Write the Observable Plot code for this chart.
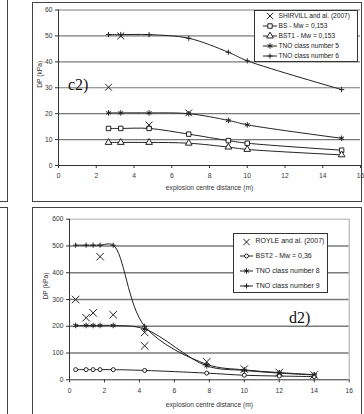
<!DOCTYPE html>
<html>
<head>
<meta charset="utf-8">
<script src="https://cdn.jsdelivr.net/npm/d3@7"></script>
<script src="https://cdn.jsdelivr.net/npm/@observablehq/plot@0.6"></script>
<style>
  html, body { margin: 0; padding: 0; background: #fff; }
  #page { position: relative; width: 364px; height: 414px; overflow: hidden; font-family: "Liberation Sans", Arial, sans-serif; color: #222; }
  .frame { position: absolute; border: 1.5px solid #444; box-sizing: border-box; }
  .chart { position: absolute; left: 0; }
  .legend { position: absolute; background: #fff; border: 1px solid #333; box-sizing: border-box; }
  .legend .row { position: absolute; left: 0; right: 0; display: flex; align-items: center; white-space: nowrap; }
  .legend svg { position: absolute; overflow: visible; }
  .tag { position: absolute; font-family: "Liberation Serif", "Times New Roman", serif; font-size: 16px; color: #111; line-height: 1; }
</style>
</head>
<body>
<div id="page">
  <div class="frame" style="left:-10px;top:-5px;width:18px;height:207px;"></div>
  <div class="frame" style="left:-10px;top:207px;width:18px;height:220px;"></div>
  <div class="frame" style="left:32px;top:2px;width:330px;height:200px;"></div>
  <div class="frame" style="left:32px;top:207px;width:330px;height:220px;"></div>
</div>
<script>
// ---- panel c2: overpressure vs distance (low congestion) ----
const distC = [2.65, 3.3, 4.8, 6.9, 9, 10, 15];
const bsC = [14.3, 14.3, 14.3, 12.1, 9.6, 8.6, 5.9];
const bst1C = [8.9, 8.9, 8.9, 8.6, 7.1, 6.2, 4.1];
const tno5C = [20.3, 20.3, 20.3, 20.0, 17.4, 15.7, 10.5];
const tno6C = [50.5, 50.5, 50.5, 49.1, 43.7, 40.4, 29.3];
const shirvillX = [2.65, 3.3, 4.8, 6.9];
const shirvillDP = [30.2, 50, 15.6, 20.3];
const xTicksC = [0, 2, 4, 6, 8, 10, 12, 14, 16];
const yTicksC = [0, 10, 20, 30, 40, 50, 60];

// ---- panel d2: overpressure vs distance (high congestion) ----
const distD = [0.35, 0.95, 1.35, 1.75, 2.5, 4.3, 7.85, 10, 12, 14];
const bst2D = [38, 38, 38, 38, 38, 35, 25, 17, 14, 12];
const tno8D = [203, 203, 203, 203, 203, 190, 52, 35, 25, 18];
const tno9D = [503, 503, 503, 503, 503, 200, 58, 37, 27, 19];
const royleX = [0.35, 0.95, 1.35, 1.75, 2.5, 4.3, 4.3, 7.85, 10, 12, 14];
const royleDP = [300, 232, 250, 460, 243, 177, 127, 67, 40, 27, 18];
const xTicksD = [0, 2, 4, 6, 8, 10, 12, 14, 16];
const yTicksD = [0, 100, 200, 300, 400, 500, 600];

const rows = (xs, ys) => xs.map((x, i) => ({x, y: ys[i]}));
const ink = "#222";
const baseStyle = {background: "transparent", fontFamily: "'Liberation Sans', Arial, sans-serif", fontSize: "6.7px", color: "#333", overflow: "visible"};

function series(data, symbol, r, fill, curve) {
  return [
    Plot.line(data, {x: "x", y: "y", stroke: ink, strokeWidth: 1, curve}),
    Plot.dot(data, {x: "x", y: "y", symbol, r, stroke: ink, strokeWidth: 1, fill})
  ];
}

const chartC = Plot.plot({
  width: 364, height: 200,
  marginLeft: 58, marginRight: 4, marginTop: 9.5, marginBottom: 35,
  style: baseStyle,
  x: {domain: [0, 16], ticks: xTicksC, tickSize: 3, tickPadding: 5, label: null},
  y: {domain: [0, 60], ticks: yTicksC, tickSize: 3, tickPadding: 3, label: null},
  marks: [
    Plot.ruleY(yTicksC.filter(d => d > 0), {stroke: "#7a7a7a", strokeWidth: 1.2}),
    Plot.ruleX([0], {stroke: "#333"}),
    Plot.ruleY([0], {stroke: "#333"}),
    ...series(rows(distC, tno6C), "plus", 1.8, "none", "catmull-rom"),
    ...series(rows(distC, tno5C), "asterisk", 2.6, "none", "catmull-rom"),
    ...series(rows(distC, bsC), "square", 2.5, "white", "catmull-rom"),
    ...series(rows(distC, bst1C), "triangle", 2.5, "white", "catmull-rom"),
    Plot.dot(rows(shirvillX, shirvillDP), {x: "x", y: "y", symbol: "times", r: 3.2, stroke: ink, strokeWidth: 1}),
    Plot.text(["DP (kPa)"], {frameAnchor: "left", dx: -19, rotate: -90, fill: "#333"}),
    Plot.text(["explosion centre distance (m)"], {frameAnchor: "bottom", dy: 24.7, fill: "#333"})
  ]
});

const chartD = Plot.plot({
  width: 364, height: 207,
  marginLeft: 69, marginRight: 15.3, marginTop: 11.7, marginBottom: 34.7,
  style: baseStyle,
  x: {domain: [0, 16], ticks: xTicksD, tickSize: 3, tickPadding: 5, label: null},
  y: {domain: [0, 600], ticks: yTicksD, tickSize: 3, tickPadding: 3, label: null},
  marks: [
    Plot.ruleY(yTicksD.filter(d => d > 0 && d < 600), {stroke: "#7a7a7a", strokeWidth: 1.4}),
    Plot.ruleY([600], {stroke: "#aaa"}),
    Plot.ruleX([16], {stroke: "#aaa"}),
    Plot.ruleX([0], {stroke: "#333"}),
    Plot.ruleY([0], {stroke: "#333"}),
    ...series(rows(distD, tno9D), "plus", 1.8, "none", "catmull-rom"),
    ...series(rows(distD, tno8D), "asterisk", 2.6, "none", "catmull-rom"),
    ...series(rows(distD, bst2D), "circle", 2, "white", "catmull-rom"),
    Plot.dot(rows(royleX, royleDP), {x: "x", y: "y", symbol: "times", r: 3.5, stroke: ink, strokeWidth: 1}),
    Plot.text(["DP (kPa)"], {frameAnchor: "left", dx: -24, rotate: -90, fill: "#333"}),
    Plot.text(["explosion centre distance (m)"], {frameAnchor: "bottom", dy: 26.7, fill: "#333"})
  ]
});

const page = document.getElementById("page");
chartC.classList.add("chart");
chartC.style.top = "0px";
chartC.style.position = "absolute";
page.appendChild(chartC);
chartD.classList.add("chart");
chartD.style.top = "207px";
chartD.style.position = "absolute";
page.appendChild(chartD);

// legend boxes: symbol + connecting line, then label
const symbolTypes = {
  times: d3.symbolTimes, plus: d3.symbolPlus, asterisk: d3.symbolAsterisk,
  square: d3.symbolSquare, triangle: d3.symbolTriangle, circle: d3.symbolCircle
};
function legend(box, items) {
  const div = document.createElement("div");
  div.className = "legend";
  Object.assign(div.style, {left: box.left + "px", top: box.top + "px", width: box.width + "px", height: box.height + "px", fontSize: box.fontSize + "px"});
  items.forEach((it, i) => {
    const cy = box.first + i * box.step;
    const svg = d3.create("svg").attr("width", box.symW).attr("height", 10)
      .style("left", box.symX + "px").style("top", (cy - 5) + "px");
    if (it.line) svg.append("line").attr("x1", 0).attr("x2", box.symW).attr("y1", 5).attr("y2", 5).attr("stroke", ink).attr("stroke-width", 1);
    svg.append("path")
      .attr("transform", `translate(${box.symW / 2},5)`)
      .attr("d", d3.symbol(symbolTypes[it.symbol], Math.PI * it.r * it.r)())
      .attr("fill", it.fill).attr("stroke", ink).attr("stroke-width", 1);
    div.appendChild(svg.node());
    const t = document.createElement("div");
    t.textContent = it.label;
    Object.assign(t.style, {position: "absolute", left: box.textX + "px", top: (cy - box.fontSize * 0.6) + "px", lineHeight: (box.fontSize * 1.2) + "px", whiteSpace: "nowrap"});
    div.appendChild(t);
  });
  page.appendChild(div);
}

legend({left: 254, top: 10, width: 104, height: 52, fontSize: 6.6, first: 5, step: 10.1, symX: 8, symW: 14, textX: 23.5}, [
  {label: "SHIRVILL and al. (2007)", symbol: "times", r: 3, fill: "none", line: false},
  {label: "BS - Mw = 0,153", symbol: "square", r: 2.5, fill: "white", line: true},
  {label: "BST1 - Mw = 0,153", symbol: "triangle", r: 2.5, fill: "white", line: true},
  {label: "TNO class number 5", symbol: "asterisk", r: 2.6, fill: "none", line: true},
  {label: "TNO class number 6", symbol: "plus", r: 1.8, fill: "none", line: true}
]);

legend({left: 232.5, top: 232.5, width: 95, height: 60.5, fontSize: 7, first: 8, step: 14.8, symX: 6.5, symW: 13, textX: 22}, [
  {label: "ROYLE and al. (2007)", symbol: "times", r: 3, fill: "none", line: false},
  {label: "BST2 - Mw = 0,36", symbol: "circle", r: 2, fill: "white", line: true},
  {label: "TNO class number 8", symbol: "asterisk", r: 2.6, fill: "none", line: true},
  {label: "TNO class number 9", symbol: "plus", r: 1.8, fill: "none", line: true}
]);

// panel tags
function tag(text, left, top) {
  const d = document.createElement("div");
  d.className = "tag";
  d.textContent = text;
  d.style.left = left + "px";
  d.style.top = top + "px";
  page.appendChild(d);
}
tag("c2)", 68, 77);
tag("d2)", 289, 310);
</script>
</body>
</html>
